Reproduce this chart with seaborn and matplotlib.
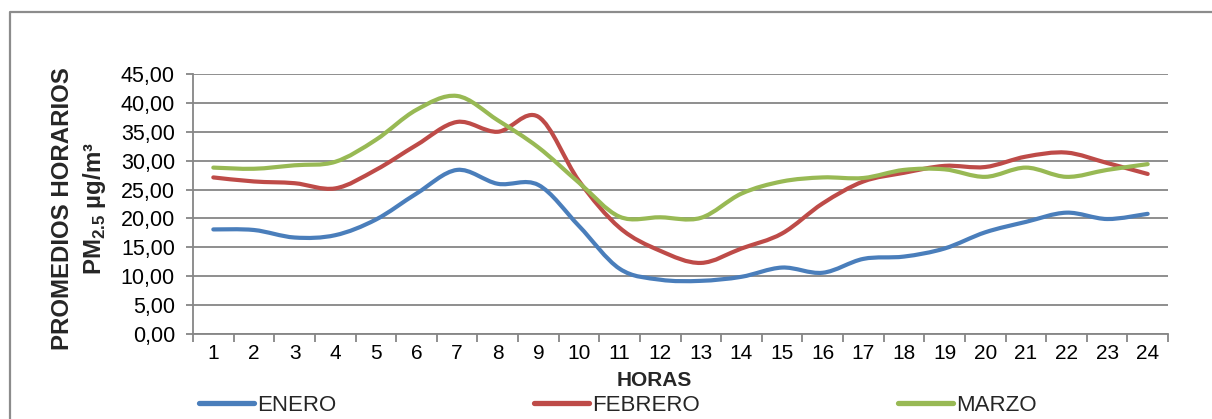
import numpy as np
import pandas as pd
import matplotlib
matplotlib.use("Agg")
import matplotlib.pyplot as plt
from matplotlib.path import Path
from matplotlib.patches import PathPatch
from matplotlib.lines import Line2D
import seaborn as sns

# Hourly PM2.5 averages per month
horas = list(range(1, 25))
enero = [18.1, 18.0, 16.7, 17.1, 19.8, 24.3, 28.4, 26.0, 25.8, 18.7, 11.3, 9.4,
         9.2, 9.9, 11.5, 10.6, 13.0, 13.4, 14.8, 17.6, 19.4, 21.0, 19.9, 20.8]
febrero = [27.1, 26.4, 26.1, 25.2, 28.4, 32.7, 36.7, 35.0, 37.6, 26.5, 18.4, 14.4,
           12.3, 14.8, 17.4, 22.6, 26.4, 27.9, 29.1, 28.9, 30.7, 31.4, 29.6, 27.7]
marzo = [28.8, 28.6, 29.2, 29.8, 33.6, 38.8, 41.2, 37.0, 32.3, 26.2, 20.3, 20.2,
         20.1, 24.3, 26.4, 27.1, 27.0, 28.4, 28.5, 27.2, 28.8, 27.2, 28.4, 29.4]
meses = ["ENERO", "FEBRERO", "MARZO"]
colores = ["#4A7EBB", "#BE4B48", "#98B954"]
yticks = [0, 5, 10, 15, 20, 25, 30, 35, 40, 45]

sns.set_theme(style="white")
plt.rcParams["font.family"] = ["Liberation Sans", "DejaVu Sans"]
plt.rcParams["mathtext.fontset"] = "custom"
plt.rcParams["mathtext.rm"] = "Liberation Sans"
plt.rcParams["mathtext.bf"] = "Liberation Sans:bold"

df = pd.DataFrame({
    "hora": horas * 3,
    "valor": enero + febrero + marzo,
    "mes": [m for m in meses for _ in horas],
})

W, H = 1212, 419
fig = plt.figure(figsize=(W / 100, H / 100), dpi=100)
ax = fig.add_axes([193 / W, 1 - 334 / H, (1168 - 193) / W, (334 - 74) / H])

sns.lineplot(data=df, x="hora", y="valor", hue="mes", hue_order=meses,
             palette=colores, lw=3, legend=False, sort=False, ax=ax)


def smooth_path(x, y):
    """Cubic Bezier path through the points (Catmull-Rom style tangents)."""
    pts = np.column_stack([x, y]).astype(float)
    n = len(pts)
    verts = [pts[0]]
    codes = [Path.MOVETO]
    for i in range(n - 1):
        p0 = pts[max(i - 1, 0)]
        p1 = pts[i]
        p2 = pts[i + 1]
        p3 = pts[min(i + 2, n - 1)]
        c1 = p1 + (p2 - p0) / 6.0
        c2 = p2 - (p3 - p1) / 6.0
        verts += [c1, c2, p2]
        codes += [Path.CURVE4] * 3
    return Path(verts, codes)


for line in list(ax.lines):
    xd, yd = line.get_xdata(), line.get_ydata()
    ax.add_patch(PathPatch(smooth_path(xd, yd), fill=False,
                           edgecolor=line.get_color(), lw=line.get_linewidth(),
                           capstyle="round", joinstyle="round", zorder=3))
    line.set_visible(False)

grid_c = "#868686"
ax.set_xlim(0.5, 24.5)
ax.set_ylim(0, 45)
ax.set_yticks(yticks)
ax.set_yticklabels([f"{v:.2f}".replace(".", ",") for v in yticks])
ax.set_xticks(horas)
ax.set_xticklabels([str(h) for h in horas])
ax.set_xticks(np.arange(0.5, 25, 1), minor=True)
ax.yaxis.grid(True, color=grid_c, lw=1.3)
ax.xaxis.grid(False)
ax.set_axisbelow(True)
for side in ["top", "right"]:
    ax.spines[side].set_visible(False)
for side in ["left", "bottom"]:
    ax.spines[side].set_color(grid_c)
    ax.spines[side].set_linewidth(1.3)
ax.tick_params(axis="y", which="major", left=True, length=5, width=1.3,
               color=grid_c, labelsize=15.5, pad=8, labelcolor="black")
ax.tick_params(axis="x", which="major", bottom=True, length=0,
               labelsize=15, pad=7, labelcolor="black")
ax.tick_params(axis="x", which="minor", bottom=True, length=6, width=1.3,
               color=grid_c)
ax.set_xlabel("")
ax.set_ylabel("")

# Axis titles
fig.text(63 / W, 1 - 209 / H, "PROMEDIOS HORARIOS", rotation=90,
         ha="center", va="center", fontsize=17.3, fontweight="bold")
fig.text(94 / W, 1 - 209 / H, r"PM$_{\mathbf{2.5}}$ µg/m³", rotation=90,
         ha="center", va="center", fontsize=17.3, fontweight="bold")
fig.text(654 / W, 1 - 380 / H, "HORAS", ha="center", va="center",
         fontsize=15, fontweight="bold")

# Legend along the bottom
handles = [Line2D([], [], color=c, lw=3.8, solid_capstyle="round") for c in colores]
fig.legend(handles, meses, loc="center left", bbox_to_anchor=(199 / W, 1 - 405 / H),
           ncol=3, frameon=False, fontsize=16, handlelength=2.48,
           handletextpad=0.135, columnspacing=8.9, borderpad=0, borderaxespad=0)

# Outer chart frame
fig.add_artist(Line2D([10 / W, 10 / W, 1.0], [0.0, 1 - 12 / H, 1 - 12 / H],
                      transform=fig.transFigure, color="#8c8c8c", lw=1.6))

fig.savefig("out.png", dpi=100)
